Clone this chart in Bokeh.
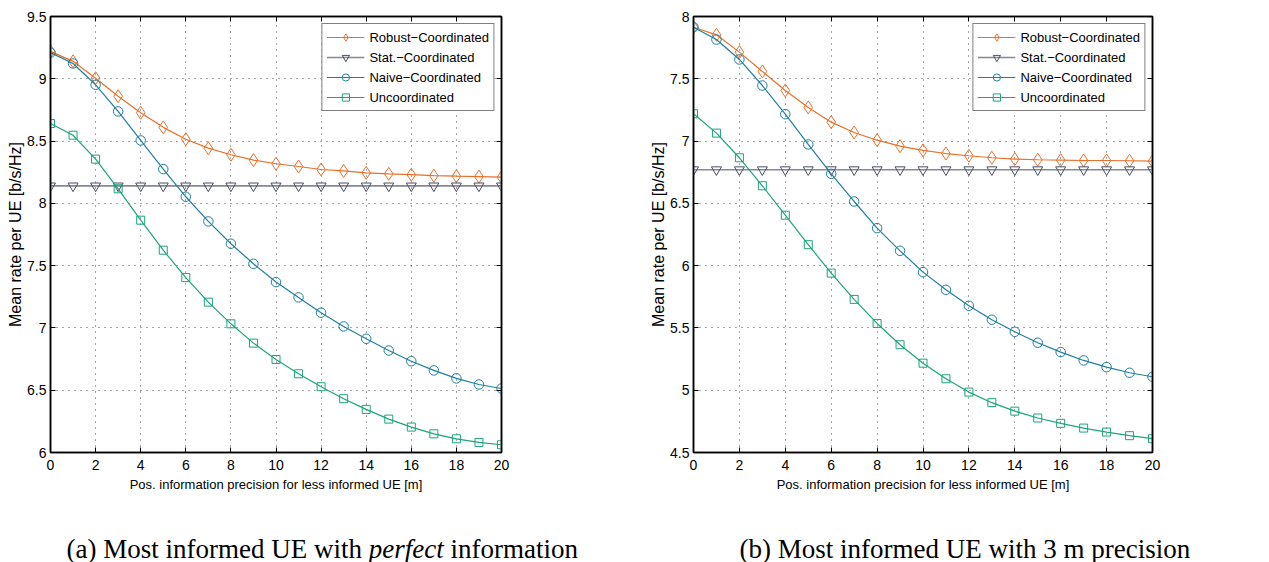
from bokeh.plotting import figure
from bokeh.layouts import row, column
from bokeh.models import Label, LinearAxis, FixedTicker, NumeralTickFormatter, Range1d
from bokeh.embed import file_html
from bokeh.resources import INLINE

# ---------------- data ----------------
x_prec = [0, 1, 2, 3, 4, 5, 6, 7, 8, 9, 10, 11, 12, 13, 14, 15, 16, 17, 18, 19, 20]

robust_a = [9.22, 9.14, 9.005, 8.86, 8.727, 8.61, 8.515, 8.443, 8.39, 8.347, 8.318,
            8.296, 8.272, 8.26, 8.245, 8.237, 8.23, 8.222, 8.218, 8.215, 8.21]
stat_a = [8.14, 8.14, 8.14, 8.14, 8.14, 8.14, 8.14, 8.14, 8.14, 8.14, 8.14,
          8.14, 8.14, 8.14, 8.14, 8.14, 8.14, 8.14, 8.14, 8.14, 8.14]
naive_a = [9.21, 9.123, 8.952, 8.738, 8.505, 8.275, 8.053, 7.855, 7.676, 7.515, 7.368,
           7.245, 7.122, 7.012, 6.913, 6.819, 6.733, 6.659, 6.595, 6.546, 6.514]
uncoord_a = [8.641, 8.547, 8.355, 8.117, 7.865, 7.624, 7.404, 7.207, 7.033, 6.878, 6.747,
             6.632, 6.528, 6.432, 6.346, 6.268, 6.204, 6.15, 6.11, 6.081, 6.062]

robust_b = [7.914, 7.853, 7.714, 7.559, 7.406, 7.27, 7.152, 7.069, 7.007, 6.959, 6.925,
            6.9, 6.882, 6.866, 6.855, 6.85, 6.847, 6.844, 6.844, 6.842, 6.839]
stat_b = [6.77, 6.77, 6.77, 6.77, 6.77, 6.77, 6.77, 6.77, 6.77, 6.77, 6.77,
          6.77, 6.77, 6.77, 6.77, 6.77, 6.77, 6.77, 6.77, 6.77, 6.77]
naive_b = [7.914, 7.815, 7.655, 7.446, 7.216, 6.973, 6.737, 6.515, 6.301, 6.119, 5.948,
           5.806, 5.678, 5.566, 5.469, 5.381, 5.306, 5.239, 5.185, 5.14, 5.108]
uncoord_b = [7.219, 7.064, 6.866, 6.641, 6.405, 6.168, 5.94, 5.729, 5.536, 5.365, 5.217,
             5.092, 4.985, 4.9, 4.832, 4.777, 4.734, 4.696, 4.664, 4.635, 4.611]

x_ticks = [0, 2, 4, 6, 8, 10, 12, 14, 16, 18, 20]
y_ticks_a = [6, 6.5, 7, 7.5, 8, 8.5, 9, 9.5]
y_ticks_b = [4.5, 5, 5.5, 6, 6.5, 7, 7.5, 8]

series_names = ["Robust\u2212Coordinated", "Stat.\u2212Coordinated",
                "Naive\u2212Coordinated", "Uncoordinated"]
x_label = "Pos. information precision for less informed UE [m]"
y_label = "Mean rate per UE [b/s/Hz]"
caption_a = ["(a) Most informed UE with", "perfect", "information"]
caption_b = "(b) Most informed UE with 3 m precision"

# ---------------- style ----------------
C_ROBUST = "#E8702A"
C_STAT_LINE = "#858995"
C_STAT_MARK = "#4A5064"
C_NAIVE = "#1F7FA0"
C_UNCOORD = "#1CA47E"
SANS = "Liberation Sans"
SERIF = "Liberation Serif"
CAP_FS = 27

# Times metrics (1/1000 em) for caption placement
TNR = {" ": 250, "(": 333, ")": 333, "3": 500, "E": 611, "M": 889, "U": 722,
       "a": 444, "b": 500, "c": 444, "d": 500, "e": 444, "f": 333, "h": 500,
       "i": 278, "m": 778, "n": 500, "o": 500, "p": 500, "r": 333, "s": 389,
       "t": 278, "w": 722}
TNRI = {"p": 500, "e": 444, "r": 389, "f": 278, "c": 444, "t": 278, " ": 250}


def tw(s, table, fs):
    return sum(table[c] for c in s) / 1000.0 * fs


def style_axis(ax, labels=True):
    ax.major_tick_in = 5
    ax.major_tick_out = 0
    ax.minor_tick_line_color = None
    ax.axis_line_color = "black"
    ax.axis_line_width = 1.5
    ax.major_tick_line_color = "black"
    ax.major_tick_line_width = 1
    if labels:
        ax.major_label_text_font = SANS
        ax.major_label_text_font_size = "14px"
        ax.major_label_text_color = "black"
        ax.major_label_standoff = 7
        ax.axis_label_text_font = SANS
        ax.axis_label_text_font_style = "normal"
        ax.axis_label_text_color = "black"
    else:
        ax.major_label_text_color = None
        ax.major_label_standoff = 0


def make_panel(robust, stat, naive, uncoord, y_lo, y_hi, y_ticks,
               left_b, frame_w, right_b):
    p = figure(frame_width=frame_w, frame_height=436,
               min_border_left=left_b, min_border_right=right_b,
               min_border_top=16, min_border_bottom=48,
               x_range=Range1d(0, 20), y_range=Range1d(y_lo, y_hi),
               output_backend="svg", toolbar_location=None,
               background_fill_color="white", border_fill_color="white")
    p.outline_line_color = "black"
    p.outline_line_width = 1.5

    p.xaxis.ticker = FixedTicker(ticks=x_ticks)
    p.yaxis.ticker = FixedTicker(ticks=y_ticks)
    p.yaxis.formatter = NumeralTickFormatter(format="0.[0]")
    p.xaxis.axis_label = x_label
    p.yaxis.axis_label = y_label
    style_axis(p.xaxis[0])
    style_axis(p.yaxis[0])
    p.yaxis.major_label_standoff = 4
    p.xaxis.axis_label_text_font_size = "13px"
    p.yaxis.axis_label_text_font_size = "16px"
    p.xaxis.axis_label_standoff = 4
    p.yaxis.axis_label_standoff = 0

    ax_top = LinearAxis(ticker=FixedTicker(ticks=x_ticks))
    ax_right = LinearAxis(ticker=FixedTicker(ticks=y_ticks))
    style_axis(ax_top, labels=False)
    style_axis(ax_right, labels=False)
    p.add_layout(ax_top, "above")
    p.add_layout(ax_right, "right")

    for g in (p.xgrid[0], p.ygrid[0]):
        g.grid_line_color = "#222222"
        g.grid_line_dash = "1 5"
        g.grid_line_alpha = 0.8
        g.grid_line_width = 1
    p.xgrid.ticker = FixedTicker(ticks=x_ticks)
    p.ygrid.ticker = FixedTicker(ticks=y_ticks)

    p.line(x_prec, robust, line_color=C_ROBUST, line_width=1.2, legend_label=series_names[0])
    p.scatter(x_prec, robust, marker="diamond", size=13, fill_color=None,
              line_color=C_ROBUST, line_width=1, legend_label=series_names[0])
    p.line(x_prec, stat, line_color=C_STAT_LINE, line_width=1.6, legend_label=series_names[1])
    p.scatter(x_prec, stat, marker="inverted_triangle", size=10, fill_color=None,
              line_color=C_STAT_MARK, line_width=1, legend_label=series_names[1])
    p.line(x_prec, naive, line_color=C_NAIVE, line_width=1.2, legend_label=series_names[2])
    p.scatter(x_prec, naive, marker="circle", size=9.5, fill_color=None,
              line_color=C_NAIVE, line_width=1, legend_label=series_names[2])
    p.line(x_prec, uncoord, line_color=C_UNCOORD, line_width=1.2, legend_label=series_names[3])
    p.scatter(x_prec, uncoord, marker="square", size=8, fill_color=None,
              line_color=C_UNCOORD, line_width=1, legend_label=series_names[3])

    lg = p.legend[0]
    lg.location = "top_right"
    lg.margin = 7
    lg.padding = 4
    lg.spacing = 2
    lg.label_height = 18
    lg.glyph_height = 18
    lg.glyph_width = 38
    lg.label_standoff = 5
    lg.label_text_font = SANS
    lg.label_text_font_size = "13px"
    lg.label_text_color = "black"
    lg.border_line_color = "black"
    lg.border_line_width = 1.2
    lg.background_fill_color = "white"
    lg.background_fill_alpha = 1
    return p


p1 = make_panel(robust_a, stat_a, naive_a, uncoord_a, 6, 9.5, y_ticks_a, 50, 451, 139)
p2 = make_panel(robust_b, stat_b, naive_b, uncoord_b, 4.5, 8, y_ticks_b, 53, 459, 117)

# caption strip below both charts
pcap = figure(frame_width=1269, frame_height=62, min_border=0,
              x_range=Range1d(0, 1), y_range=Range1d(0, 1),
              output_backend="svg", toolbar_location=None,
              background_fill_color="white", border_fill_color="white")
pcap.axis.visible = False
pcap.grid.visible = False
pcap.outline_line_color = None

cap_y = 14
xa = 66
xb = 739
w1 = tw(caption_a[0] + " ", TNR, CAP_FS)
w2 = tw(caption_a[1] + " ", TNRI, CAP_FS)
common = dict(y=cap_y, x_units="screen", y_units="screen", text_font=SERIF,
              text_font_size=f"{CAP_FS}px", text_color="black",
              text_baseline="alphabetic", text_align="left")
pcap.add_layout(Label(x=xa, text=caption_a[0], **common))
pcap.add_layout(Label(x=xa + w1, text=caption_a[1], text_font_style="italic", **common))
pcap.add_layout(Label(x=xa + w1 + w2, text=caption_a[2], **common))
pcap.add_layout(Label(x=xb, text=caption_b, **common))

layout = column(row(p1, p2), pcap)
open("out.html", "w").write(file_html(layout, INLINE))
